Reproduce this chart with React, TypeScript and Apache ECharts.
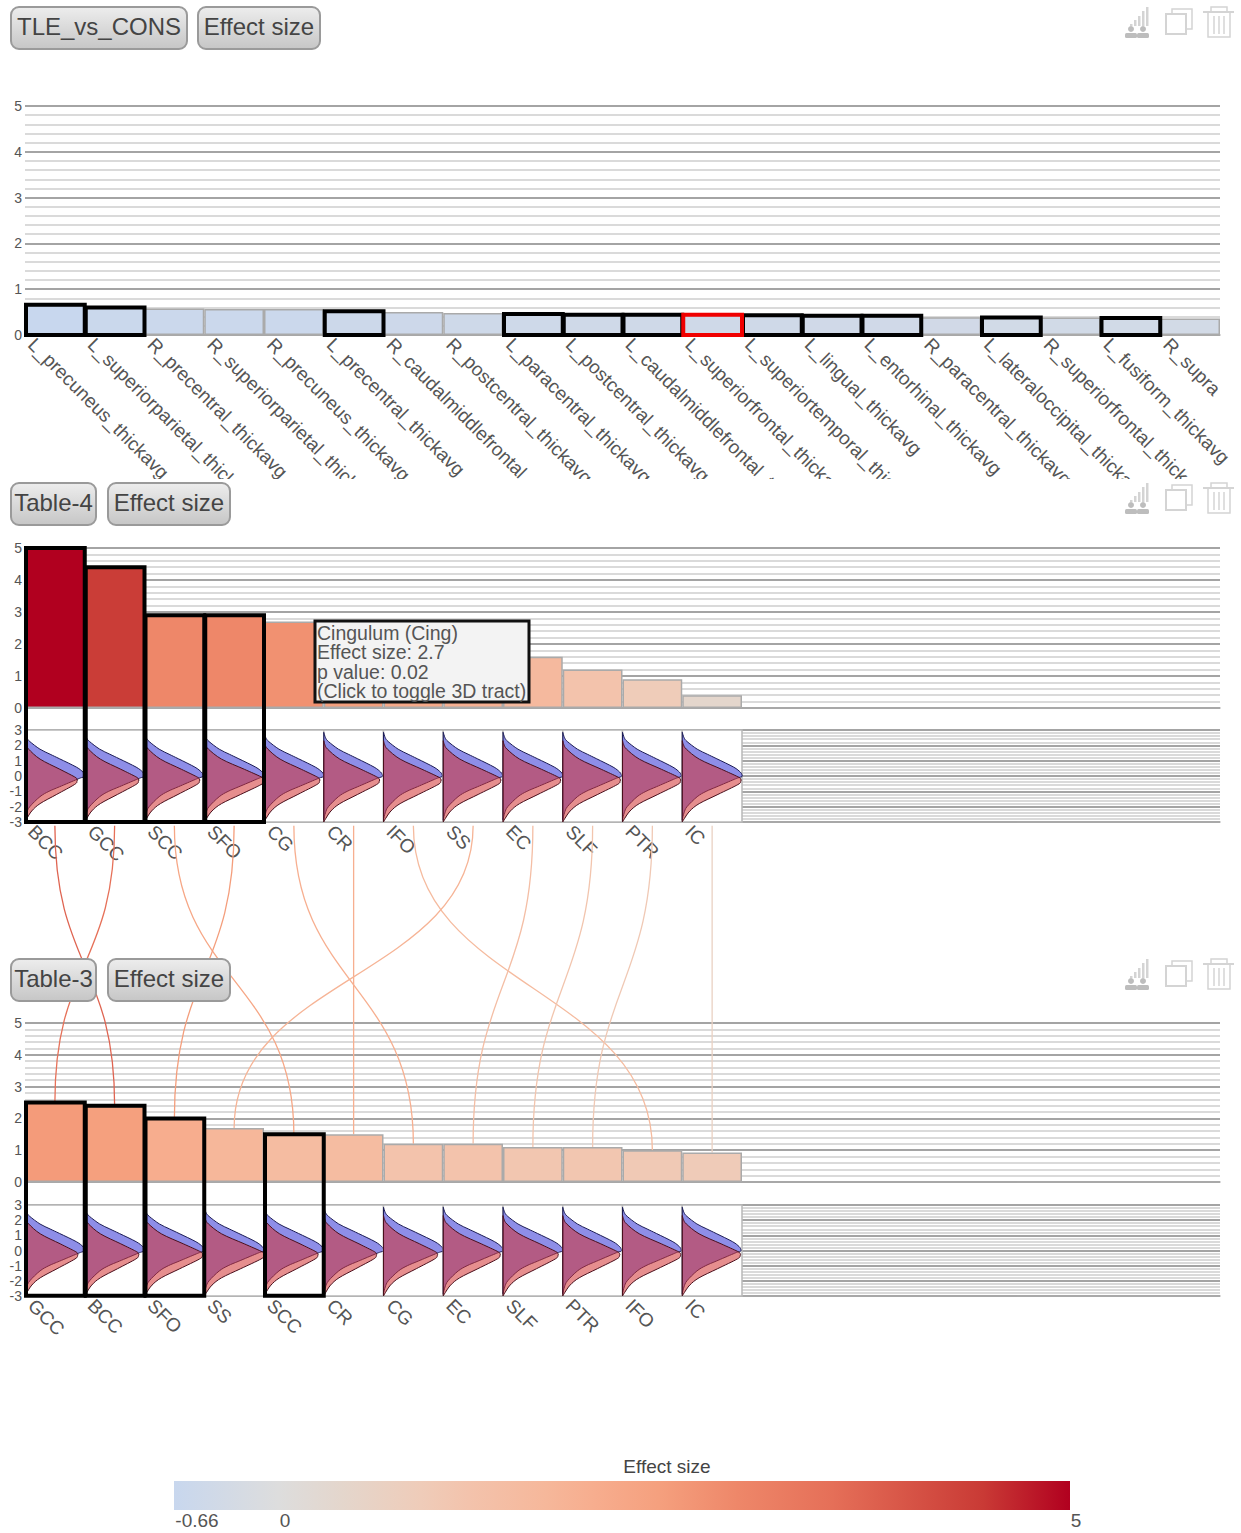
import React, { useEffect, useRef } from "react";
import * as echarts from "echarts";

const FONT = "Liberation Sans";
const TEXT = "#555";

const thicknessNames = [
  "L_precuneus_thickavg", "L_superiorparietal_thickavg", "R_precentral_thickavg", "R_superiorparietal_thickavg",
  "R_precuneus_thickavg", "L_precentral_thickavg", "R_caudalmiddlefrontal_thickavg", "R_postcentral_thickavg",
  "L_paracentral_thickavg", "L_postcentral_thickavg", "L_caudalmiddlefrontal_thickavg", "L_superiorfrontal_thickavg",
  "L_superiortemporal_thickavg", "L_lingual_thickavg", "L_entorhinal_thickavg", "R_paracentral_thickavg",
  "L_lateraloccipital_thickavg", "R_superiorfrontal_thickavg", "L_fusiform_thickavg", "R_supramarginal_thickavg",
];
// The page cuts the last label at the plot's right edge, so only its visible start is drawn.
const thicknessTickLabels = thicknessNames.slice(0, 19).concat(["R_supra"]);
const thicknessValues = [-0.66, -0.6, -0.58, -0.57, -0.57, -0.52, -0.5, -0.48, -0.46, -0.44, -0.44, -0.44, -0.43, -0.42, -0.42, -0.39, -0.38, -0.38, -0.37, -0.36];
const thicknessSelected = [0, 1, 5, 8, 9, 10, 12, 13, 14, 16, 18];
const thicknessHighlighted = [11];

const table4Names = ["BCC", "GCC", "SCC", "SFO", "CG", "CR", "IFO", "SS", "EC", "SLF", "PTR", "IC"];
const table4Values = [5, 4.4, 2.9, 2.9, 2.7, 2.4, 2.1, 1.9, 1.6, 1.2, 0.9, 0.4];
const table4Selected = [0, 1, 2, 3];
const table4BlueWidth = [1, 1, 0.98, 1, 1, 0.98, 0.98, 0.99, 1, 0.98, 0.98, 1];
const table4RedWidth = [0.87, 0.9, 0.92, 1, 0.93, 0.93, 0.96, 0.96, 0.96, 0.96, 0.97, 0.98];

const table3Names = ["GCC", "BCC", "SFO", "SS", "SCC", "CR", "CG", "EC", "SLF", "PTR", "IFO", "IC"];
const table3Values = [2.5, 2.4, 2.0, 1.7, 1.5, 1.5, 1.2, 1.2, 1.1, 1.1, 1.0, 0.93];
const table3Selected = [0, 1, 2, 4];
const table3BlueWidth = [1, 1, 1, 1, 1, 1, 1, 1, 1, 0.98, 0.98, 0.98];
const table3RedWidth = [0.88, 0.9, 0.97, 1, 0.9, 0.88, 0.9, 0.95, 0.92, 0.95, 0.97, 0.97];

const blueProfile = [[0, 2.85], [0.03, 2.5], [0.08, 2.25], [0.25, 1.75], [0.42, 1.42], [0.58, 1.12], [0.86, 0.58], [0.97, 0.26], [1, 0.08], [1, -0.04], [0.95, -0.1], [0.87, -0.22], [0.58, -0.7], [0.4, -1.0], [0.25, -1.35], [0.08, -2.0], [0.03, -2.4], [0, -2.85]];
const redProfile = [[0, 2.3], [0.02, 2.05], [0.07, 1.75], [0.29, 1.1], [0.67, 0.44], [0.95, -0.05], [1, -0.2], [1, -0.34], [0.95, -0.56], [0.61, -1.2], [0.29, -1.8], [0.13, -2.28], [0.035, -2.78], [0, -3]];

const colorStops: [number, string][] = [
  [-0.66, "#c8d7ee"], [0, "#dddddd"], [0.4, "#e4d6cc"], [0.9, "#efccb9"], [1.2, "#f3c3ac"], [1.7, "#f6b79a"],
  [2.0, "#f7ad8e"], [2.4, "#f5a07e"], [2.9, "#ee8769"], [3.5, "#e56f58"], [4.45, "#c93a35"], [5, "#b1001f"],
];
const legendTicks = [-0.66, 0, 5];

const BAND_SLOTS = 20;
const LEFT = 25;
const WIDTH = 1195;
const panel2Floor = -3.56;
const panel3Floor = -3.58;
const linkStart = 11.2;

function hex(c: string) {
  return [1, 3, 5].map((i) => parseInt(c.slice(i, i + 2), 16));
}
function colorAt(v: number) {
  for (let i = 1; i < colorStops.length; i++) {
    if (v <= colorStops[i][0]) {
      const [a, ca] = colorStops[i - 1];
      const [b, cb] = colorStops[i];
      const t = Math.max(0, (v - a) / (b - a));
      const A = hex(ca), B = hex(cb);
      return `rgb(${A.map((x, k) => Math.round(x + (B[k] - x) * t)).join(",")})`;
    }
  }
  return colorStops[colorStops.length - 1][1];
}

function smoothPath(pts: number[][]) {
  let d = `M${pts[0][0]} ${pts[0][1]}`;
  for (let i = 0; i < pts.length - 1; i++) {
    const p0 = pts[Math.max(0, i - 1)], p1 = pts[i], p2 = pts[i + 1], p3 = pts[Math.min(pts.length - 1, i + 2)];
    const c1x = p1[0] + (p2[0] - p0[0]) / 6, c1y = p1[1] + (p2[1] - p0[1]) / 6;
    const c2x = p2[0] - (p3[0] - p1[0]) / 6, c2y = p2[1] - (p3[1] - p1[1]) / 6;
    d += `C${c1x} ${c1y} ${c2x} ${c2y} ${p2[0]} ${p2[1]}`;
  }
  return d + "Z";
}

const pad = (names: string[], n: number) => names.concat(Array(n - names.length).fill(""));

function xBand(grid: number, names: string[]) {
  return {
    type: "category", gridIndex: grid, position: "bottom", data: pad(names, BAND_SLOTS), boundaryGap: true,
    axisTick: { show: false }, axisLabel: { show: false },
    axisLine: { show: true, onZero: false, lineStyle: { color: "#aaa", width: 1.5 } },
  };
}
function xLabels(grid: number, names: string[], size: number, margin: number) {
  return {
    type: "category", gridIndex: grid, position: "bottom", data: pad(names, BAND_SLOTS + 1), boundaryGap: false,
    axisTick: { show: false }, axisLine: { show: false, onZero: false }, splitLine: { show: false },
    axisLabel: {
      show: true, interval: 0, rotate: -45, fontSize: size, fontFamily: FONT, color: TEXT, margin,
      hideOverlap: false, padding: [0, 0, 0, 9],
    },
  };
}
function yAxis(grid: number, min: number, max: number) {
  return {
    type: "value", gridIndex: grid, min, max, interval: 1,
    axisLine: { show: false }, axisTick: { show: false },
    axisLabel: { fontSize: 14, fontFamily: FONT, color: TEXT, margin: 3 },
    splitLine: { show: true, lineStyle: { color: "#a4a4a4", width: 2 } },
    minorTick: { show: false, splitNumber: 5 },
    minorSplitLine: { show: true, lineStyle: { color: "#dadada", width: 2 } },
  };
}
function bars(xi: number, yi: number, values: number[]) {
  return {
    type: "bar", xAxisIndex: xi, yAxisIndex: yi, barWidth: "100%", barGap: "0%", z: 5,
    data: values.map((v) => ({
      value: Math.abs(v),
      itemStyle: { color: colorAt(v), borderColor: "#aaa", borderWidth: 1.5 },
    })),
  };
}
function outlines(xi: number, yi: number, idx: number[], values: number[], floor: number, color: string) {
  return {
    type: "custom", xAxisIndex: xi, yAxisIndex: yi, z: 7, silent: true, clip: false,
    data: idx.map((i) => [i, Math.abs(values[i])]),
    renderItem: (_: any, api: any) => {
      const i = api.value(0);
      const cx = api.coord([i, 0])[0];
      const bw = api.size([1, 0])[0];
      const top = api.coord([i, api.value(1)])[1];
      const bottom = api.coord([i, floor])[1];
      return {
        type: "rect",
        shape: { x: cx - bw / 2 + 1, y: top, width: bw - 1, height: bottom - top },
        style: { fill: "none", stroke: color, lineWidth: 4 },
      };
    },
  };
}
function violins(xi: number, yi: number, blue: number[], red: number[]) {
  return {
    type: "custom", xAxisIndex: xi, yAxisIndex: yi, z: 6, silent: true, clip: false,
    data: blue.map((b, i) => [i, 0, b, red[i]]),
    renderItem: (_: any, api: any) => {
      const i = api.value(0);
      const cx = api.coord([i, 0])[0];
      const bw = api.size([1, 0])[0];
      const left = cx - bw / 2;
      const shape = (profile: number[][], w: number) =>
        smoothPath(profile.map(([t, v]) => [left + t * w * bw, api.coord([i, v])[1]]));
      const top = api.coord([i, 3])[1];
      const bottom = api.coord([i, -3])[1];
      return {
        type: "group",
        children: [
          { type: "rect", shape: { x: left, y: top, width: bw, height: bottom - top }, style: { fill: "#fff", stroke: "#b8b8b8", lineWidth: 1.5 } },
          { type: "path", shape: { pathData: shape(blueProfile, api.value(2)) }, style: { fill: "rgba(67,67,217,0.6)", stroke: "#1c1c55", lineWidth: 1 } },
          { type: "path", shape: { pathData: shape(redProfile, api.value(3)) }, style: { fill: "rgba(210,50,50,0.55)", stroke: "#4a0f1c", lineWidth: 1 } },
        ],
      };
    },
  };
}
function links(xi: number, yi: number) {
  return {
    type: "custom", xAxisIndex: xi, yAxisIndex: yi, z: 4, silent: true, clip: false,
    data: table4Names.map((n, i) => {
      const to = table3Names.indexOf(n);
      return [i, table3Values[to], to, (table4Values[i] + table3Values[to]) / 2];
    }),
    renderItem: (_: any, api: any) => {
      const x1 = api.coord([api.value(0), 0])[0];
      const x2 = api.coord([api.value(2), 0])[0];
      const y1 = api.coord([0, linkStart])[1];
      const y2 = api.coord([0, api.value(1)])[1];
      const mid = (y1 + y2) / 2;
      return {
        type: "bezierCurve",
        shape: { x1, y1, x2, y2, cpx1: x1, cpy1: mid, cpx2: x2, cpy2: mid },
        style: { fill: "none", stroke: colorAt(api.value(3)), lineWidth: 1.3 },
      };
    },
  };
}

function button(x: number, y: number, w: number, label: string) {
  return [
    {
      type: "rect", z: 60, shape: { x, y, width: w, height: 42, r: 8 },
      style: {
        fill: new echarts.graphic.LinearGradient(0, 0, 0, 1, [
          { offset: 0, color: "#ededed" }, { offset: 1, color: "#c6c6c6" },
        ]),
        stroke: "#9a9a9a", lineWidth: 2,
      },
    },
    {
      type: "text", z: 61, x: x + w / 2, y: y + 19,
      style: { text: label, fill: "#444", fontSize: 24, fontFamily: FONT, textAlign: "center", textVerticalAlign: "middle" },
    },
  ];
}
function icons(dy: number) {
  const pale = "#d4d4d4", dark = "#bdbdbd";
  const el: any[] = [];
  [[1130, 24], [1134, 20], [1138, 16], [1142, 11], [1146, 7]].forEach(([x, y]) =>
    el.push({ type: "rect", z: 60, shape: { x, y: y + dy, width: 2.5, height: 26 - y }, style: { fill: pale } }));
  [1131, 1143].forEach((x) => {
    el.push({ type: "circle", z: 60, shape: { cx: x, cy: 29 + dy, r: 3 }, style: { fill: dark } });
    el.push({ type: "rect", z: 60, shape: { x: x - 6, y: 33 + dy, width: 12, height: 5, r: 1.5 }, style: { fill: dark } });
  });
  el.push({ type: "rect", z: 60, shape: { x: 1172, y: 9 + dy, width: 20, height: 20 }, style: { fill: "#fff", stroke: pale, lineWidth: 1.5 } });
  el.push({ type: "rect", z: 61, shape: { x: 1166, y: 14 + dy, width: 20, height: 20 }, style: { fill: "#fff", stroke: pale, lineWidth: 2 } });
  el.push({ type: "rect", z: 60, shape: { x: 1211, y: 7 + dy, width: 16, height: 5 }, style: { fill: "none", stroke: pale, lineWidth: 1.5 } });
  el.push({ type: "line", z: 60, shape: { x1: 1203, y1: 12 + dy, x2: 1234, y2: 12 + dy }, style: { stroke: pale, lineWidth: 2 } });
  el.push({ type: "rect", z: 60, shape: { x: 1208, y: 12 + dy, width: 22, height: 25 }, style: { fill: "none", stroke: pale, lineWidth: 1.5 } });
  [1213, 1218, 1223].forEach((x) =>
    el.push({ type: "line", z: 60, shape: { x1: x + 1, y1: 16 + dy, x2: x + 1, y2: 34 + dy }, style: { stroke: pale, lineWidth: 1.5 } }));
  return el;
}

function buildOption() {
  const lo = colorStops[0][0];
  const hi = colorStops[colorStops.length - 1][0];
  const LEG_X = 174, LEG_W = 896;
  const tooltipLines = ["Cingulum (Cing)", "Effect size: 2.7", "p value: 0.02", "(Click to toggle 3D tract)"];
  const graphic: any[] = [
    // the first panel's long labels are cut off at its lower edge
    { type: "rect", z: 50, shape: { x: 0, y: 479, width: 1241, height: 60 }, style: { fill: "#fff" } },
    ...button(11, 7, 176, "TLE_vs_CONS"), ...button(198, 7, 122, "Effect size"),
    ...button(11, 483, 85, "Table-4"), ...button(108, 483, 122, "Effect size"),
    ...button(11, 959, 85, "Table-3"), ...button(108, 959, 122, "Effect size"),
    ...icons(0), ...icons(476), ...icons(952),
    { type: "rect", z: 60, shape: { x: 315, y: 621, width: 214, height: 81 }, style: { fill: "#f3f3f3", stroke: "#111", lineWidth: 3 } },
    ...tooltipLines.map((t, i) => ({
      type: "text", z: 61, x: 317, y: 633 + i * 19.4,
      style: { text: t, fill: TEXT, fontSize: 19.5, fontFamily: FONT, textAlign: "left", textVerticalAlign: "middle" },
    })),
    {
      type: "rect", z: 10, shape: { x: LEG_X, y: 1481, width: LEG_W, height: 29 },
      style: {
        fill: new echarts.graphic.LinearGradient(0, 0, 1, 0,
          colorStops.map(([v, c]) => ({ offset: (v - lo) / (hi - lo), color: c }))),
      },
    },
    {
      type: "text", z: 10, x: 667, y: 1466,
      style: { text: "Effect size", fill: "#444", fontSize: 19, fontFamily: FONT, textAlign: "center", textVerticalAlign: "middle" },
    },
    ...legendTicks.map((v, i) => ({
      type: "text", z: 10, x: [197, 285, 1076][i], y: 1520,
      style: { text: String(v), fill: TEXT, fontSize: 19, fontFamily: FONT, textAlign: "center", textVerticalAlign: "middle" },
    })),
  ];

  const gridBase = { left: LEFT, width: WIDTH, outerBoundsMode: "none", containLabel: false };
  return {
    animation: false,
    backgroundColor: "#fff",
    tooltip: { show: false },
    grid: [
      { ...gridBase, top: 106, height: 229 },
      { ...gridBase, top: 548, height: 160 },
      { ...gridBase, top: 730, height: 92 },
      { ...gridBase, top: 1023, height: 159 },
      { ...gridBase, top: 1205, height: 91 },
    ],
    xAxis: [
      xBand(0, thicknessNames), xLabels(0, thicknessTickLabels, 19, 0),
      xBand(1, table4Names),
      xBand(2, table4Names), xLabels(2, table4Names, 19, 0),
      xBand(3, table3Names),
      xBand(4, table3Names), xLabels(4, table3Names, 19, 0),
    ],
    yAxis: [yAxis(0, 0, 5), yAxis(1, 0, 5), yAxis(2, -3, 3), yAxis(3, 0, 5), yAxis(4, -3, 3)],
    series: [
      bars(0, 0, thicknessValues),
      outlines(0, 0, thicknessSelected, thicknessValues, 0, "#000"),
      outlines(0, 0, thicknessHighlighted, thicknessValues, 0, "#f00000"),
      bars(2, 1, table4Values),
      violins(3, 2, table4BlueWidth, table4RedWidth),
      outlines(2, 1, table4Selected, table4Values, panel2Floor, "#000"),
      links(5, 3),
      bars(5, 3, table3Values),
      violins(6, 4, table3BlueWidth, table3RedWidth),
      outlines(5, 3, table3Selected, table3Values, panel3Floor, "#000"),
    ],
    graphic: { elements: graphic },
  };
}

export default function App() {
  const ref = useRef<HTMLDivElement>(null);
  useEffect(() => {
    const chart = echarts.init(ref.current!, undefined, { renderer: "svg" });
    chart.setOption(buildOption() as any);
    return () => chart.dispose();
  }, []);
  return <div ref={ref} style={{ position: "absolute", left: 0, top: 0, width: 1241, height: 1533 }} />;
}
